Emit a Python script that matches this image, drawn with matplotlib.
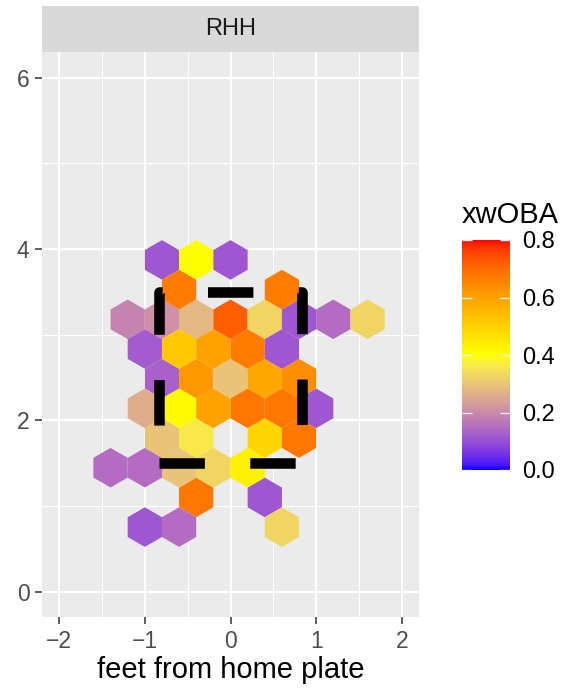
import numpy as np
import matplotlib.pyplot as plt
from matplotlib.colors import ListedColormap

plt.rcParams['font.family'] = ['Liberation Sans', 'DejaVu Sans']

# hex centres (feet) and mean xwOBA
plate_x = [-0.8, -0.4, 0.0,
           -0.6, 0.6,
           -1.2, -0.8, -0.4, 0.0, 0.4, 0.8, 1.2, 1.6,
           -1.0, -0.6, -0.2, 0.2, 0.6,
           -0.8, -0.4, 0.0, 0.4, 0.8,
           -1.0, -0.6, -0.2, 0.2, 0.6, 1.0,
           -0.8, -0.4, 0.4, 0.8,
           -1.4, -1.0, -0.6, -0.2, 0.2,
           -0.4, 0.4,
           -1.0, -0.6, 0.6]
plate_z = [3.87] * 3 + [3.52] * 2 + [3.17] * 8 + [2.83] * 5 + [2.48] * 5 \
    + [2.14] * 6 + [1.79] * 4 + [1.44] * 5 + [1.10] * 2 + [0.75] * 3
xwoba = [0.11, 0.40, 0.11,
         0.67, 0.67,
         0.19, 0.21, 0.28, 0.72, 0.33, 0.11, 0.15, 0.33,
         0.12, 0.52, 0.60, 0.67, 0.11,
         0.13, 0.62, 0.30, 0.59, 0.64,
         0.26, 0.41, 0.60, 0.68, 0.68, 0.11,
         0.30, 0.36, 0.49, 0.68,
         0.15, 0.15, 0.30, 0.33, 0.43,
         0.68, 0.11,
         0.11, 0.15, 0.33]

# strike zone outline
zone_x = [-0.83, 0.83, 0.83, -0.83, -0.83]
zone_z = [1.5, 1.5, 3.5, 3.5, 1.5]

cbar_ticks = [0.0, 0.2, 0.4, 0.6, 0.8]


def srgb_to_lab(rgb):
    """ Convert sRGB (0-1) colours to CIE Lab (D65). """
    rgb = np.asarray(rgb, float)
    lin = np.where(rgb <= 0.04045, rgb / 12.92, ((rgb + 0.055) / 1.055) ** 2.4)
    xyz = lin @ M.T / WHITE
    d = 6 / 29
    f = np.where(xyz > d ** 3, np.cbrt(xyz), xyz / (3 * d * d) + 4 / 29)
    return np.stack([116 * f[..., 1] - 16,
                     500 * (f[..., 0] - f[..., 1]),
                     200 * (f[..., 1] - f[..., 2])], -1)


def lab_to_srgb(lab):
    """ Convert CIE Lab colours back to clipped sRGB. """
    fy = (lab[..., 0] + 16) / 116
    f = np.stack([fy + lab[..., 1] / 500, fy, fy - lab[..., 2] / 200], -1)
    d = 6 / 29
    xyz = np.where(f > d, f ** 3, 3 * d * d * (f - 4 / 29)) * WHITE
    lin = np.clip(xyz @ np.linalg.inv(M).T, 0, 1)
    return np.clip(np.where(lin <= 0.0031308, 12.92 * lin, 1.055 * lin ** (1 / 2.4) - 0.055), 0, 1)


M = np.array([[0.4124564, 0.3575761, 0.1804375],
              [0.2126729, 0.7151522, 0.0721750],
              [0.0193339, 0.1191920, 0.9503041]])
WHITE = np.array([0.95047, 1.0, 1.08883])

# blue -> yellow -> red, interpolated in Lab like ggplot's gradient2
low, mid, high = srgb_to_lab([[0, 0, 1], [1, 1, 0], [1, 0, 0]])
t = np.linspace(0, 1, 256)[:, None]
lab = np.where(t <= 0.5, low + (mid - low) * (t / 0.5), mid + (high - mid) * ((t - 0.5) / 0.5))
cmap = ListedColormap(lab_to_srgb(lab))

fig = plt.figure(figsize=(5.69, 6.91), dpi=100)
W, H = 569, 691
ax = fig.add_axes([42 / W, (H - 617.4) / H, 377 / W, 565.6 / H])
ax.set_facecolor('#EBEBEB')

binw = 0.4
sy = binw * np.sqrt(3)
ymin = 1.10 - 2 * sy
hb = ax.hexbin(plate_x, plate_z, C=xwoba, reduce_C_function=np.mean,
               gridsize=(10, 7), extent=(-2.0, 2.0, ymin, ymin + 7 * sy),
               cmap=cmap, vmin=0, vmax=0.8, linewidths=0, zorder=2)

ax.plot(zone_x, zone_z, color='black', lw=7.6, linestyle=(0, (4.3, 4.3)),
        dash_capstyle='butt', dash_joinstyle='round', zorder=3)

ax.set_xlim(-2.2, 2.2)
ax.set_ylim(-0.3, 6.3)
ax.set_xticks([-2, -1, 0, 1, 2])
ax.set_xticklabels(['\u22122', '\u22121', '0', '1', '2'])
ax.set_yticks([0, 2, 4, 6])
ax.set_xticks([-1.5, -0.5, 0.5, 1.5], minor=True)
ax.set_yticks([1, 3, 5], minor=True)
ax.grid(which='major', color='white', lw=1.5, zorder=0)
ax.grid(which='minor', color='white', lw=0.75, zorder=0)
ax.set_axisbelow(True)
for s in ax.spines.values():
    s.set_visible(False)
ax.tick_params(which='major', length=5, width=1.1, color='#333333',
               labelsize=16.5, labelcolor='#4D4D4D', pad=4)
ax.tick_params(which='minor', length=0)
ax.set_xlabel('feet from home plate', fontsize=21, color='black', labelpad=2)

# facet strip
sax = fig.add_axes([42 / W, (H - 51.8) / H, 377 / W, 45.8 / H])
sax.set_facecolor('#D9D9D9')
sax.set_xticks([])
sax.set_yticks([])
for s in sax.spines.values():
    s.set_visible(False)
sax.text(0.5, 0.5, 'RHH', ha='center', va='center', fontsize=17, color='#1A1A1A',
         transform=sax.transAxes)

# colour bar
cax = fig.add_axes([462 / W, (H - 470) / H, 48 / W, 230 / H])
cb = fig.colorbar(hb, cax=cax, ticks=cbar_ticks)
cb.outline.set_visible(False)
cb.minorticks_off()
cax.set_yticklabels([f'{v:.1f}' for v in cbar_ticks])
cax.tick_params(axis='y', direction='in', left=True, right=True, labelleft=False,
                labelright=True, length=7, width=1, color='#F0F0F0',
                labelsize=17, labelcolor='black', pad=9)
fig.text(462 / W, (H - 223) / H, 'xwOBA', fontsize=21, ha='left', va='baseline')

fig.savefig('out.png', dpi=100)
